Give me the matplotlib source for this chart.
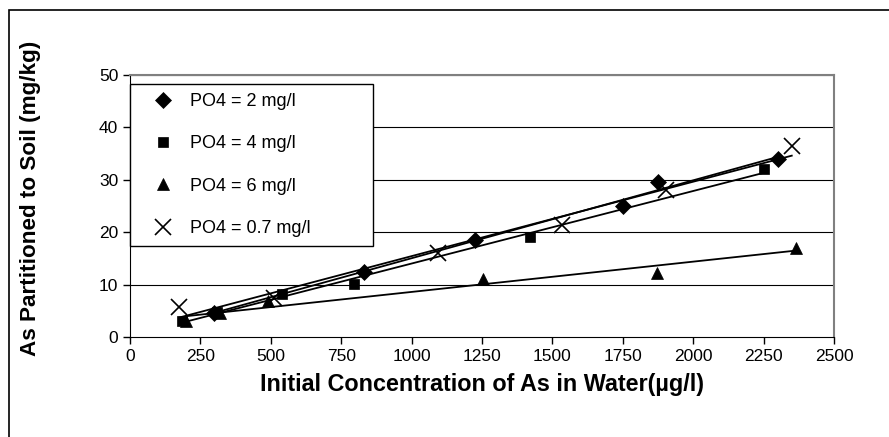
# Arsenic partitioning to soil vs initial concentration, for several PO4 levels

import numpy as np
import matplotlib.pyplot as plt
from matplotlib.patches import Rectangle

plt.rcParams['font.family'] = ['Liberation Sans', 'DejaVu Sans']

# data
labels = ["PO4 = 2 mg/l", "PO4 = 4 mg/l", "PO4 = 6 mg/l", "PO4 = 0.7 mg/l"]
markers = ["D", "s", "^", "x"]

x_po4_2 = [300, 830, 1225, 1750, 1875, 2300]
y_po4_2 = [4.6, 12.4, 18.6, 25.0, 29.5, 34.0]

x_po4_4 = [185, 310, 540, 795, 1420, 2250]
y_po4_4 = [3.0, 4.8, 8.2, 10.2, 19.0, 32.0]

x_po4_6 = [200, 320, 490, 1255, 1870, 2365]
y_po4_6 = [3.0, 4.5, 6.8, 11.0, 12.2, 17.0]

x_po4_07 = [175, 510, 1095, 1535, 1905, 2350]
y_po4_07 = [5.7, 7.5, 16.0, 21.3, 28.0, 36.4]

xticks = [0, 250, 500, 750, 1000, 1250, 1500, 1750, 2000, 2250, 2500]
yticks = [0, 10, 20, 30, 40, 50]

series = [(x_po4_2, y_po4_2), (x_po4_4, y_po4_4), (x_po4_6, y_po4_6), (x_po4_07, y_po4_07)]
msizes = [8, 7, 8, 11]

fig = plt.figure(figsize=(8.89, 4.37), dpi=100)
ax = fig.add_axes([130 / 889, 1 - 337 / 437, 704 / 889, 262 / 437])

# outer frame of the chart
fig.patches.append(Rectangle((9 / 889, -0.2), 1.2, 1 - 10 / 437 + 0.2,
                             transform=fig.transFigure, fill=False,
                             edgecolor="black", linewidth=1.2))

for y in yticks[1:]:
    ax.axhline(y, color="black", linewidth=0.8, zorder=1)

for (xs, ys), m, lab, ms in zip(series, markers, labels, msizes):
    xs = np.array(xs)
    ys = np.array(ys)
    # linear trend line over the data range
    k, b = np.polyfit(xs, ys, 1)
    xl = np.array([xs.min(), xs.max()])
    ax.plot(xl, k * xl + b, color="black", linewidth=1.3, zorder=2)
    ax.plot(xs, ys, linestyle="none", marker=m, color="black", markersize=ms,
            markeredgewidth=1.2 if m == "x" else 0.5, label=lab, zorder=3)

ax.set_xlim(0, 2500)
ax.set_ylim(0, 50)
ax.set_xticks(xticks)
ax.set_yticks(yticks)
ax.tick_params(labelsize=12.5, length=5, width=1, direction="out")
ax.spines["top"].set_color("#808080")
ax.spines["right"].set_color("#808080")
ax.spines["top"].set_linewidth(1.5)
ax.spines["right"].set_linewidth(1.5)

fig.text(482 / 889, 1 - 385 / 437, "Initial Concentration of As in Water(µg/l)",
         fontsize=16.8, fontweight="bold", ha="center", va="center")
fig.text(31 / 889, 1 - 198 / 437, "As Partitioned to Soil (mg/kg)", fontsize=16.2,
         fontweight="bold", rotation=90, ha="center", va="center")

leg = ax.legend(loc="upper left",
                bbox_to_anchor=(130 / 889, 1 - 250 / 437, 243 / 889, 166 / 437),
                bbox_transform=fig.transFigure, mode="expand", fontsize=13,
                frameon=True, fancybox=False, edgecolor="black", framealpha=1,
                labelspacing=1.4, handlelength=2.7, handletextpad=0.14,
                borderpad=0.5, borderaxespad=0)
leg.get_frame().set_linewidth(1.0)
leg.set_zorder(5)

fig.savefig("out.png", dpi=100)
